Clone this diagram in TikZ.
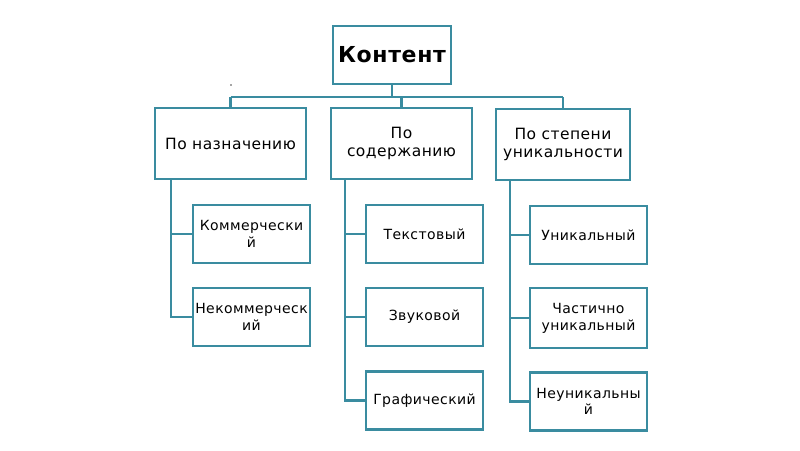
\documentclass[tikz,border=0pt]{standalone}
\usepackage{fontspec}
\setmainfont{DejaVu Sans}[LetterSpace=3]
\definecolor{lineteal}{RGB}{58,140,160}
\begin{document}
\begin{tikzpicture}[x=1pt,y=-1pt,
  basebox/.style={draw=lineteal, line width=2.2pt, fill=white, align=center, inner sep=0pt, anchor=center},
  rootbox/.style={basebox, minimum width=118pt, minimum height=58pt, font=\fontsize{22}{26}\selectfont\bfseries},
  catbox/.style={basebox, minimum width=#1, minimum height=71pt, font=\fontsize{15.5}{18}\selectfont},
  leafbox/.style={basebox, minimum width=117pt, minimum height=58pt, font=\fontsize{14}{16.7}\selectfont},
  conn/.style={draw=lineteal, line width=2.2pt}
]
\useasboundingbox (0,0) rectangle (800,450);
\fill[white] (0,0) rectangle (800,450);

\node[rootbox] (root) at (392,55) {Контент};

\node[catbox=151pt] (A) at (230.5,143.5) {По назначению};
\node[catbox=141pt] (B) at (401.5,143.5) {По\\содержанию};
\node[catbox=134pt] (C) at (563,144.5) {По степени\\уникальности};

\node[leafbox] (A1) at (251.5,234) {Коммерчески\\й};
\node[leafbox] (A2) at (251.5,317) {Некоммерческ\\ий};

\node[leafbox] (B1) at (424.5,234) {Текстовый};
\node[leafbox] (B2) at (424.5,317) {Звуковой};
\node[leafbox] (B3) at (424.5,400.5) {Графический};

\node[leafbox] (C1) at (588.5,235) {Уникальный};
\node[leafbox, minimum height=60pt] (C2) at (588.5,318) {Частично\\уникальный};
\node[leafbox] (C3) at (588.5,401.5) {Неуникальны\\й};

\coordinate (bus) at (0,97);
\coordinate (spA) at (171,0);
\coordinate (spB) at (345,0);
\coordinate (spC) at (510,0);

\draw[conn] (root.south) -- (root.south |- bus);
\draw[conn] (A.north |- bus) -- (C.north |- bus);
\draw[conn] (A.north |- bus) -- (A.north);
\draw[conn] (B.north |- bus) -- (B.north);
\draw[conn] (C.north |- bus) -- (C.north);

\draw[conn] (A.south -| spA) |- (A1.west);
\draw[conn] (A.south -| spA) |- (A2.west);
\draw[conn] (B.south -| spB) |- (B1.west);
\draw[conn] (B.south -| spB) |- (B2.west);
\draw[conn] (B.south -| spB) |- (B3.west);
\draw[conn] (C.south -| spC) |- (C1.west);
\draw[conn] (C.south -| spC) |- (C2.west);
\draw[conn] (C.south -| spC) |- (C3.west);

\fill[black!70] (231,85) circle (0.8);
\end{tikzpicture}
\end{document}
